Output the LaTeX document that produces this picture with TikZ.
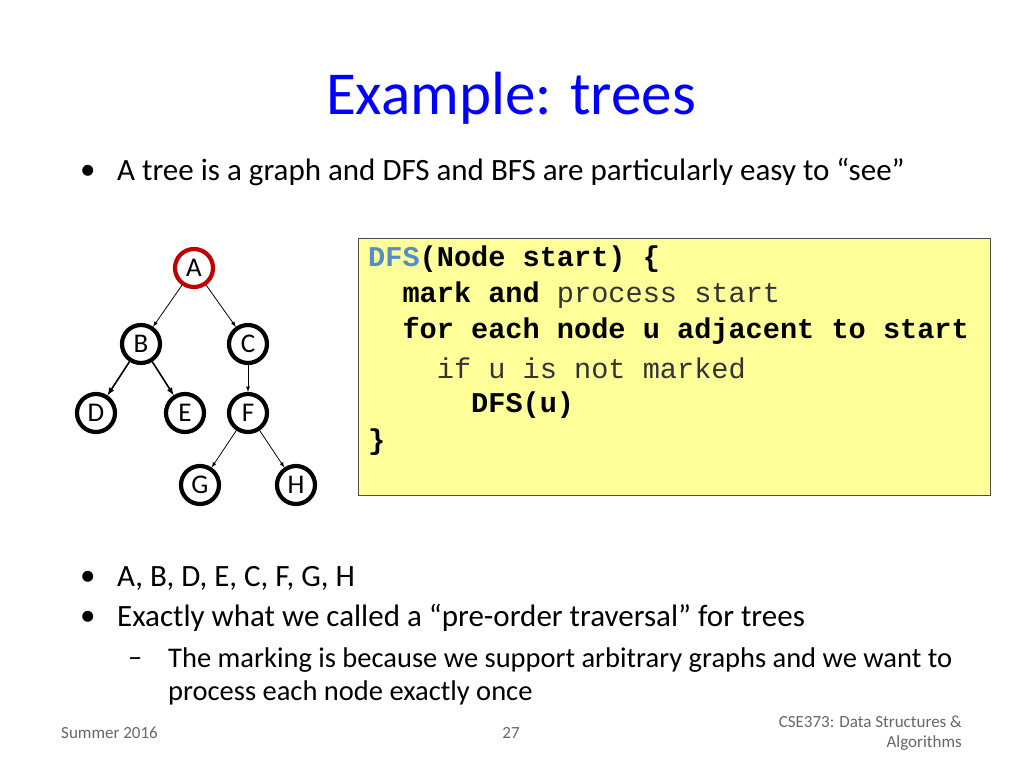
\documentclass[tikz,border=0pt]{standalone}
\usepackage{fontspec}
\setmainfont{Carlito}
\setmonofont{Liberation Mono}
\begin{document}
\begin{tikzpicture}[x=1pt,y=-1pt,
  tn/.style={circle,draw=black,line width=4.2pt,minimum size=38pt,inner sep=0pt,font=\fontsize{27}{30}\selectfont},
  ar/.style={-latex,line width=0.8pt},
  txt/.style={anchor=west,inner sep=0pt,font=\fontsize{31}{36}\selectfont},
  subtxt/.style={anchor=west,inner sep=0pt,font=\fontsize{28.5}{33}\selectfont},
  code/.style={anchor=west,inner sep=0pt,font=\ttfamily\fontsize{28.6}{32}\selectfont},
  foot/.style={inner sep=0pt,font=\fontsize{17}{20}\selectfont,text=black!60}]
\useasboundingbox (0,0) rectangle (1024,768);
\fill[white] (0,0) rectangle (1024,768);
\node[font=\fontsize{61}{70}\selectfont,text=blue,inner sep=0pt] (title) at (511,98) {Example: trees};
\node[txt] (b0) at (80,172) {•};
\node[txt] (t0) at (117,172) {A tree is a graph and DFS and BFS are particularly easy to “see”};
% code box
\node[draw=black!70,fill={rgb,255:red,255;green,255;blue,153},line width=0.8pt,minimum width=632pt,minimum height=257pt,anchor=north west,inner sep=0pt] (box) at (358,238) {};
\node[code] (c1) at (368,259) {\textcolor[rgb]{0.33,0.55,0.8}{\textbf{DFS}}\textbf{(Node start) \{}};
\node[code] (c2) at (368,295) {\phantom{xx}\textbf{mark and} \textcolor{black!80}{process start}};
\node[code] (c3) at (368,331) {\phantom{xx}\textbf{for each node u adjacent to start}};
\node[code] (c4) at (368,368) {\phantom{xxxx}\textcolor{black!80}{if u is not marked}};
\node[code] (c5) at (368,405) {\phantom{xxxxxx}\textbf{DFS(u)}};
\node[code] (c6) at (368,442) {\textbf{\}}};
% tree
\node[tn,draw={rgb,255:red,192;green,0;blue,0}] (A) at (194,268) {A};
\node[tn] (B) at (141,344) {B};
\node[tn] (C) at (248,344) {C};
\node[tn] (D) at (96,413) {D};
\node[tn] (E) at (185,413) {E};
\node[tn] (F) at (248,413) {F};
\node[tn] (G) at (200,485) {G};
\node[tn] (H) at (296,485) {H};
\draw[ar] (A) -- (B);
\draw[ar] (A) -- (C);
\draw[ar,line width=1.6pt] (B) -- (D);
\draw[ar,line width=1.6pt] (B) -- (E);
\draw[ar] (C) -- (F);
\draw[ar] (F) -- (G);
\draw[ar] (F) -- (H);
% bottom bullets
\node[txt] (b1) at (80,578) {•};
\node[txt] (t1) at (117,578) {A, B, D, E, C, F, G, H};
\node[txt] (b2) at (80,618) {•};
\node[txt] (t2) at (117,618) {Exactly what we called a “pre-order traversal” for trees};
\node[subtxt] (d3) at (128,662) {\textendash};
\node[subtxt] (t3) at (168,660) {The marking is because we support arbitrary graphs and we want to};
\node[subtxt] (t4) at (168,693) {process each node exactly once};
% footer
\node[foot,anchor=west] (f1) at (61,733) {Summer 2016};
\node[foot] (f2) at (511,733) {27};
\node[foot,anchor=east] (f3) at (962,722) {CSE373: Data Structures \&};
\node[foot,anchor=east] (f4) at (962,743) {Algorithms};
\end{tikzpicture}
\end{document}
